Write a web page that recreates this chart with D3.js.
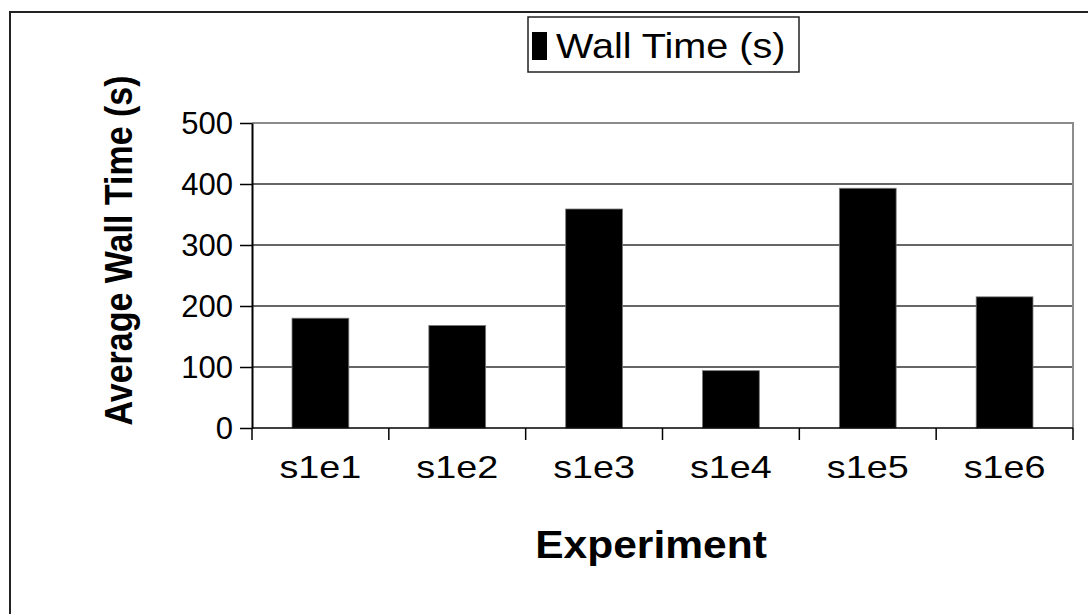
<!DOCTYPE html>
<html>
<head>
<meta charset="utf-8">
<script src="https://cdn.jsdelivr.net/npm/d3@7"></script>
<style>
  body { margin: 0; background: #fff; }
  svg { display: block; font-family: "Liberation Sans", Arial, sans-serif; }
</style>
</head>
<body>
<script>
// chart data
const experiments = ["s1e1", "s1e2", "s1e3", "s1e4", "s1e5", "s1e6"]
const wallTimes = [180, 168, 359, 94, 393, 215]
const yTicks = [0, 100, 200, 300, 400, 500]
const seriesName = "Wall Time (s)"

const width = 1088, height = 614
const plot = {left: 252, right: 1073, top: 123, bottom: 428}
const hStretch = 1.12 // text in the source is slightly wider than tall

const svg = d3.select("body").append("svg")
      .attr("width", width)
      .attr("height", height)

// outer chart frame (only top and left visible)
svg.append("path")
      .attr("d", `M10,${height} V12 H${width}`)
      .attr("fill", "none")
      .attr("stroke", "#222")
      .attr("stroke-width", 2)

const x = d3.scaleBand(experiments, [plot.left, plot.right])
      .paddingInner(0.585)
      .paddingOuter(0.2925)
const xTick = d3.scaleBand(experiments, [plot.left, plot.right])
const y = d3.scaleLinear([0, 500], [plot.bottom, plot.top])

// gridlines
svg.append("g")
      .selectAll("line")
      .data(yTicks.filter(d => d > 0 && d < 500))
      .join("line")
      .attr("x1", plot.left)
      .attr("x2", plot.right)
      .attr("y1", d => y(d))
      .attr("y2", d => y(d))
      .attr("stroke", "#333")
      .attr("stroke-width", 1.5)

// plot area border (top and right, grey)
svg.append("path")
      .attr("d", `M${plot.left},${y(500)} H${plot.right} V${plot.bottom}`)
      .attr("fill", "none")
      .attr("stroke", "#8c8c8c")
      .attr("stroke-width", 2)

// bars
svg.append("g")
      .selectAll("rect")
      .data(experiments)
      .join("rect")
      .attr("x", d => x(d))
      .attr("y", (d, i) => y(wallTimes[i]))
      .attr("width", x.bandwidth())
      .attr("height", (d, i) => y(0) - y(wallTimes[i]))
      .attr("fill", "#000")
      .attr("stroke", "#777")
      .attr("stroke-width", 0.8)

// y axis
const yAxis = d3.axisLeft(y).tickValues(yTicks).tickSize(12).tickSizeOuter(0).tickFormat(() => "")
svg.append("g")
      .attr("transform", `translate(${plot.left},0)`)
      .call(yAxis)
      .call(g => g.select(".domain").attr("stroke", "#000").attr("stroke-width", 2))
      .call(g => g.selectAll(".tick line").attr("stroke", "#000").attr("stroke-width", 1.5))
svg.append("g")
      .selectAll("text")
      .data(yTicks)
      .join("text")
      .attr("transform", d => `translate(233,${y(d) + 11})`)
      .attr("text-anchor", "end")
      .attr("font-size", 31)
      .text(d => d)

// x axis: ticks at category boundaries
const xBounds = experiments.map(d => xTick(d)).concat([plot.right])
svg.append("line")
      .attr("x1", plot.left).attr("x2", plot.right)
      .attr("y1", plot.bottom).attr("y2", plot.bottom)
      .attr("stroke", "#000").attr("stroke-width", 1.5)
svg.append("g")
      .selectAll("line")
      .data(xBounds)
      .join("line")
      .attr("x1", d => d).attr("x2", d => d)
      .attr("y1", plot.bottom).attr("y2", plot.bottom + 12)
      .attr("stroke", "#000").attr("stroke-width", 1.5)
svg.append("g")
      .selectAll("text")
      .data(experiments)
      .join("text")
      .attr("transform", d => `translate(${xTick(d) + xTick.bandwidth() / 2},478) scale(1.18,1)`)
      .attr("text-anchor", "middle")
      .attr("font-size", 32)
      .text(d => d)

// axis titles
svg.append("text")
      .attr("transform", `translate(651,558) scale(${hStretch},1)`)
      .attr("text-anchor", "middle")
      .attr("font-size", 38)
      .attr("font-weight", "bold")
      .text("Experiment")

svg.append("text")
      .attr("transform", `translate(132,${(plot.top + plot.bottom) / 2 - 25}) rotate(-90) scale(1,${hStretch})`)
      .attr("text-anchor", "middle")
      .attr("font-size", 34)
      .attr("font-weight", "bold")
      .text("Average Wall Time (s)")

// legend
const legend = svg.append("g").attr("transform", "translate(528,17)")
legend.append("rect")
      .attr("width", 271).attr("height", 55)
      .attr("fill", "#fff")
      .attr("stroke", "#222").attr("stroke-width", 1.5)
legend.append("rect")
      .attr("x", 4).attr("y", 15)
      .attr("width", 15).attr("height", 28)
      .attr("fill", "#000")
legend.append("text")
      .attr("transform", `translate(28,41) scale(1.1,1)`)
      .attr("font-size", 36)
      .text(seriesName)
</script>
</body>
</html>
